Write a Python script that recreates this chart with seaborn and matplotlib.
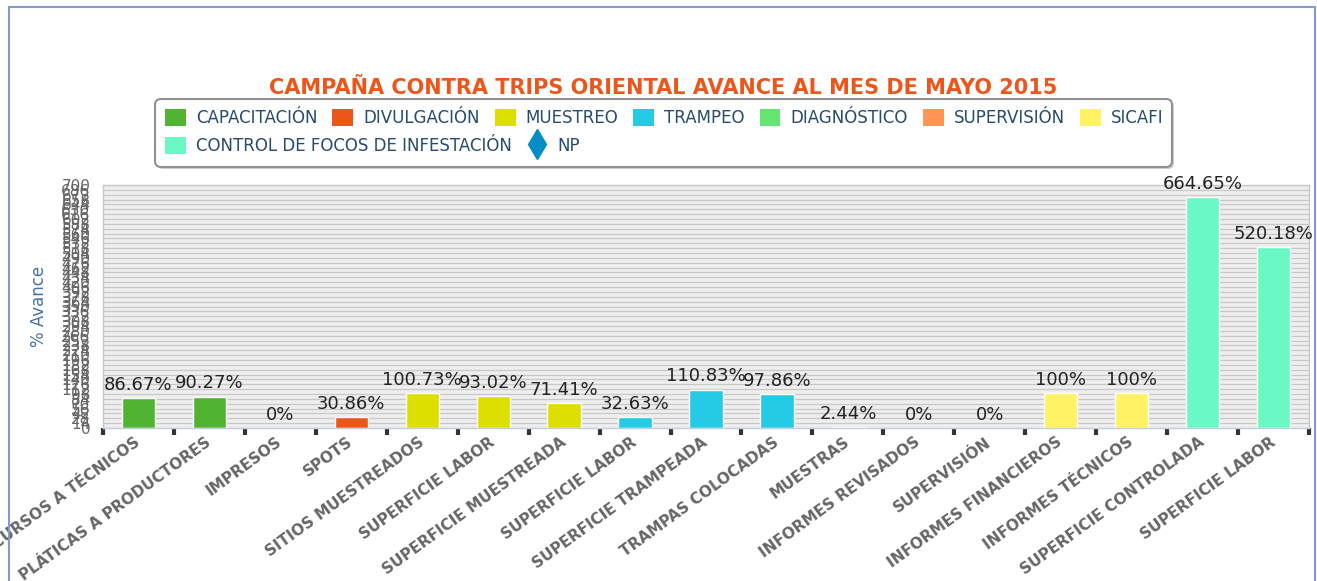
import numpy as np
import pandas as pd
import matplotlib.pyplot as plt
import seaborn as sns
from matplotlib.patches import Patch, FancyBboxPatch, Rectangle
from matplotlib.lines import Line2D

# datos del avance por actividad
categorias = ['CURSOS A TÉCNICOS', 'PLÁTICAS A PRODUCTORES', 'IMPRESOS', 'SPOTS',
              'SITIOS MUESTREADOS', 'SUPERFICIE LABOR', 'SUPERFICIE MUESTREADA',
              'SUPERFICIE LABOR', 'SUPERFICIE TRAMPEADA', 'TRAMPAS COLOCADAS',
              'MUESTRAS', 'INFORMES REVISADOS', 'SUPERVISIÓN', 'INFORMES FINANCIEROS',
              'INFORMES TÉCNICOS', 'SUPERFICIE CONTROLADA', 'SUPERFICIE LABOR']
avance = [86.67, 90.27, 0, 30.86, 100.73, 93.02, 71.41, 32.63, 110.83, 97.86,
          2.44, 0, 0, 100, 100, 664.65, 520.18]
componente = ['CAPACITACIÓN', 'CAPACITACIÓN', 'DIVULGACIÓN', 'DIVULGACIÓN',
              'MUESTREO', 'MUESTREO', 'MUESTREO', 'TRAMPEO', 'TRAMPEO', 'TRAMPEO',
              'DIAGNÓSTICO', 'SUPERVISIÓN', 'SUPERVISIÓN', 'SICAFI', 'SICAFI',
              'CONTROL DE FOCOS DE INFESTACIÓN', 'CONTROL DE FOCOS DE INFESTACIÓN']
series = ['CAPACITACIÓN', 'DIVULGACIÓN', 'MUESTREO', 'TRAMPEO', 'DIAGNÓSTICO',
          'SUPERVISIÓN', 'SICAFI', 'CONTROL DE FOCOS DE INFESTACIÓN']
colores = ['#50B432', '#ED561B', '#DDDF00', '#24CBE5', '#64E572', '#FF9655',
           '#FFF263', '#6AF9C4']
color_np = '#058DC7'

titulo = 'CAMPAÑA CONTRA TRIPS ORIENTAL AVANCE AL MES DE MAYO 2015'

df = pd.DataFrame({'pos': range(len(categorias)), 'avance': avance,
                   'componente': componente})

sns.set_style('white')
fig = plt.figure(figsize=(13.17, 5.81), dpi=100)
ax = fig.add_axes([103/1317, 1 - 428/581, 1206/1317, 243/581])

_ = sns.barplot(data=df, x='pos', y='avance', hue='componente', hue_order=series,
                palette=dict(zip(series, colores)), dodge=False, width=0.47,
                saturation=1, legend=False, edgecolor='white', linewidth=1, ax=ax)

ax.set_facecolor('#eeeeee')
ax.set_xlim(-0.5, len(categorias) - 0.5)
ax.set_ylim(0, 700)
ax.set_yticks(np.arange(0, 701, 14))
ax.yaxis.grid(True, color='#c8c8c8', linewidth=0.9)
ax.set_axisbelow(True)
for s in ax.spines.values():
    s.set_color('#c8c8c8')
    s.set_linewidth(1)
ax.spines['bottom'].set_color('#c0d0e0')

ax.tick_params(axis='y', length=0, pad=9, labelsize=11, labelcolor='#666666')

ax.set_xticks(range(len(categorias)))
ax.set_xticklabels(categorias, rotation=36, ha='right', va='center',
                   rotation_mode='anchor', fontweight='bold', fontsize=11,
                   color='#666666')
ax.set_xticks(np.arange(-0.5, len(categorias), 1), minor=True)
ax.tick_params(axis='x', which='major', length=0, pad=9)
ax.tick_params(axis='x', which='minor', length=5, width=3, color='#333333',
               direction='out', bottom=True)
ax.set_xlabel('')
ax.set_ylabel('% Avance', color='#4572A7', fontsize=12)
ax.yaxis.set_label_coords(-55/1206, 0.5)

# etiquetas de valor sobre las barras
for i, v in enumerate(avance):
    ax.annotate(f'{v:g}%', (i, v), xytext=(0, 3), textcoords='offset points',
                ha='center', va='bottom', fontsize=13, color='#222222')

fig.text(663/1317, 1 - 88/581, titulo, ha='center', va='center',
         fontsize=15, fontweight='bold', color='#ED561B')

# marco de la leyenda
sombra = FancyBboxPatch((1.57, 5.81 - 1.69), 10.17, 0.68,
                        boxstyle='round,pad=0,rounding_size=0.06',
                        transform=fig.dpi_scale_trans, facecolor='#d0d0d0',
                        edgecolor='none', zorder=1)
marco = FancyBboxPatch((1.55, 5.81 - 1.67), 10.17, 0.68,
                       boxstyle='round,pad=0,rounding_size=0.06',
                       transform=fig.dpi_scale_trans, facecolor='white',
                       edgecolor='#909090', linewidth=1.5, zorder=2)
fig.add_artist(sombra)
fig.add_artist(marco)

handles1 = [Patch(facecolor=c, edgecolor='none', label=s)
            for s, c in zip(series[:7], colores[:7])]
handles2 = [Patch(facecolor=colores[7], edgecolor='none', label=series[7]),
            Line2D([], [], marker='d', color=color_np, linestyle='none',
                   markersize=15, label='NP')]
leg_kw = dict(loc='center left', frameon=False, fontsize=12, borderpad=0,
              borderaxespad=0, handlelength=1.25, handleheight=1.25,
              handletextpad=0.6, columnspacing=0.9, labelcolor='#274b6d')
leg1 = fig.legend(handles=handles1, ncol=7, bbox_to_anchor=(165/1317, 1 - 118/581),
                  **leg_kw)
leg2 = fig.legend(handles=handles2, ncol=2, bbox_to_anchor=(165/1317, 1 - 146/581),
                  **leg_kw)
leg1.set_zorder(5)
leg2.set_zorder(5)

# borde exterior
fig.add_artist(Rectangle((9/1317, -0.1), (1315 - 9)/1317, 1.1 - 7/581,
                         transform=fig.transFigure, fill=False,
                         edgecolor='#7f9ccb', linewidth=1.5))

fig.savefig('out.png', dpi=100)
plt.close()
